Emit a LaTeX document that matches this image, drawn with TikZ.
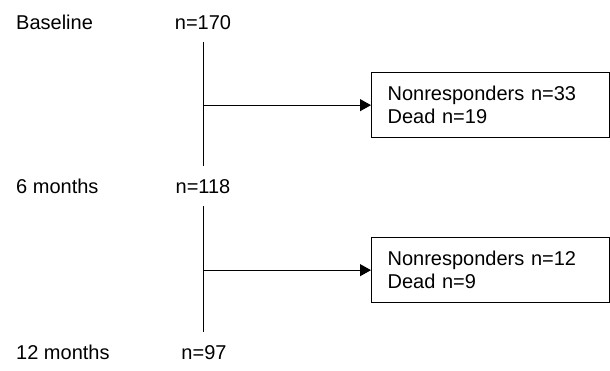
\documentclass[tikz,border=0pt]{standalone}
\usepackage{fontspec}
\setmainfont{Liberation Sans}
\usetikzlibrary{arrows.meta}

\begin{document}
\begin{tikzpicture}[x=1pt, y=-1pt,
  every node/.style={font=\fontsize{20}{23}\selectfont, inner sep=0pt},
  stage/.style={anchor=base west},
  count/.style={anchor=base},
  lossbox/.style={draw, line width=1.3pt, anchor=north west, align=left,
    text width=206pt, inner xsep=16pt, minimum height=65pt},
  flow/.style={line width=1pt, shorten <=13pt, shorten >=13pt},
  exit/.style={line width=1pt, -{Triangle[length=11pt, width=12pt]}}]

  \useasboundingbox (0,0) rectangle (610,370);

  \node[stage] (base) at (16,29) {Baseline};
  \node[stage] (m6)   at (16,193) {6 months};
  \node[stage] (m12)  at (16,359) {12 months};

  \node[count] (n170) at (203,29) {n=170};
  \node[count] (n118) at (203,193) {n=118};
  \node[count] (n97)  at (204,359) {n=97};

  \node[lossbox] (loss1) at (371,72)  {Nonresponders n=33\\Dead n=19};
  \node[lossbox] (loss2) at (371,237) {Nonresponders n=12\\Dead n=9};

  \draw[flow] (n170.south) -- (n118.north);
  \draw[flow] (n118.south) -- (n118.south |- n97.north);

  \draw[exit] (n170.south |- loss1.west) -- (loss1.west);
  \draw[exit] (n118.south |- loss2.west) -- (loss2.west);

\end{tikzpicture}
\end{document}
